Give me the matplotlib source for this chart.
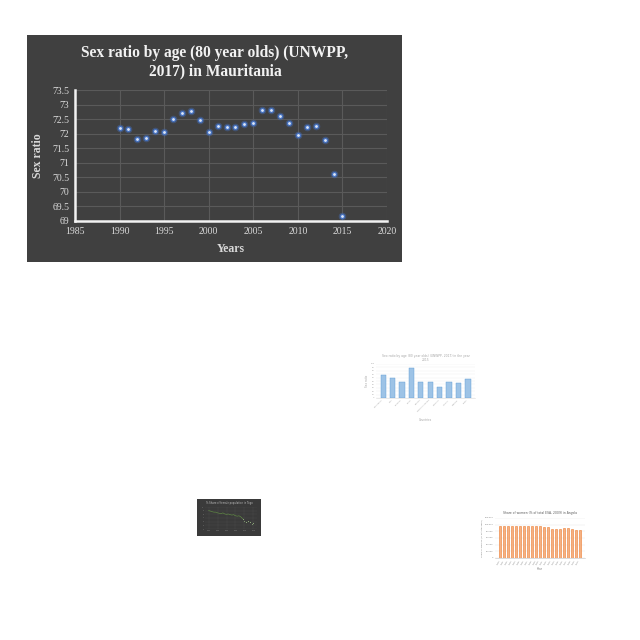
import matplotlib
matplotlib.use("Agg")
import matplotlib.pyplot as plt

# main chart data
years = list(range(1990, 2016))
sex_ratio = [72.21, 72.17, 71.82, 71.86, 72.09, 72.06, 72.50, 72.71, 72.78, 72.47,
             72.06, 72.27, 72.24, 72.24, 72.34, 72.37, 72.80, 72.83, 72.62, 72.37,
             71.97, 72.24, 72.27, 71.77, 70.60, 69.16]
y_ticks = [69, 69.5, 70, 70.5, 71, 71.5, 72, 72.5, 73, 73.5]
y_tick_labels = ["69", "69.5", "70", "70.5", "71", "71.5", "72", "72.5", "73", "73.5"]
x_ticks = [1985, 1990, 1995, 2000, 2005, 2010, 2015, 2020]

# thumbnail data (illegible in the reference, values estimated)
blue_cats = ["Mauritania", "Mali", "Senegal", "Niger", "Guinea", "Western Sahara",
             "Morocco", "Algeria", "Gambia", "Chad"]
blue_vals = [67, 58, 46, 89, 48, 47, 33, 46, 43, 56]
orange_years = [str(y) for y in range(1990, 2011)]
orange_vals = [96500, 96000, 96300, 96500, 97000, 97200, 97000, 97000, 97000, 96800,
               96000, 94500, 92500, 88500, 88000, 88200, 89500, 90000, 86000, 85000, 85500]
green_x = list(range(1990, 2016))
green_y = [9.0, 8.9, 8.7, 8.6, 8.6, 8.4, 8.3, 8.2, 8.4, 8.1, 8.0, 8.1, 7.9, 7.8,
           7.9, 7.6, 7.5, 7.6, 7.3, 6.8, 6.2, 5.9, 6.3, 5.8, 5.4, 5.7]

BG = "#404040"
GRID = "#5a5a5a"
TXT = "#d9d9d9"
SERIF = ["Liberation Serif", "DejaVu Serif"]

fig = plt.figure(figsize=(6.4, 6.4), dpi=100)
fig.patch.set_facecolor("white")

def px(x0, y0, x1, y1):
    # pixel box -> figure rect
    return [x0 / 640, 1 - y1 / 640, (x1 - x0) / 640, (y1 - y0) / 640]

def panel(box, color):
    p = fig.add_axes(px(*box), zorder=-1)
    p.set_facecolor(color)
    p.set_xticks([]); p.set_yticks([])
    for s in p.spines.values():
        s.set_visible(False)
    return p

# ---- main dark chart ----
panel((27, 35, 402, 262), BG)
ax = fig.add_axes(px(75, 90, 387, 221))
ax.set_facecolor(BG)
ax.set_xlim(1985, 2020)
ax.set_ylim(69, 73.5)
ax.set_xticks(x_ticks)
ax.set_yticks(y_ticks)
ax.set_yticklabels(y_tick_labels)
ax.grid(True, color=GRID, linewidth=0.8)
ax.set_axisbelow(True)
for s in ["top", "right"]:
    ax.spines[s].set_visible(False)
for s in ["left", "bottom"]:
    ax.spines[s].set_color("#f2f2f2")
    ax.spines[s].set_linewidth(1.8)
ax.tick_params(length=0, colors=TXT, labelsize=7, pad=4)
for lab in ax.get_xticklabels() + ax.get_yticklabels():
    lab.set_family(SERIF)
ax.scatter(years, sex_ratio, s=30, color="#4472c4", alpha=0.4, linewidths=0, zorder=3)
ax.scatter(years, sex_ratio, s=8, color="#dce6f7", edgecolors="#4472c4", linewidths=0.8, zorder=4)
ax.set_xlabel("Years", family=SERIF, color=TXT, fontsize=8.5, fontweight="bold", labelpad=5)
ax.set_ylabel("Sex ratio", family=SERIF, color=TXT, fontsize=8.5, fontweight="bold", labelpad=6)
fig.text(215 / 640, 1 - 62 / 640, "Sex ratio by age (80 year olds) (UNWPP,\n2017) in Mauritania",
         ha="center", va="center", family=SERIF, color="#f2f2f2", fontsize=11.2,
         fontweight="bold", linespacing=1.15)

# ---- thumbnail: blue bars ----
tb = fig.add_axes(px(376, 364, 475, 398))
tb.bar(range(len(blue_vals)), blue_vals, color="#9dc3e6", edgecolor="#5b9bd5", linewidth=0.3, width=0.55)
tb.set_ylim(0, 100)
tb.set_yticks(range(0, 101, 10))
tb.set_xticks(range(len(blue_cats)))
tb.set_xticklabels(blue_cats, rotation=45, ha="right")
tb.tick_params(labelsize=1.5, length=0, colors="#a6a6a6", pad=1)
tb.grid(axis="y", color="#eeeeee", linewidth=0.3)
tb.set_axisbelow(True)
for s in ["top", "right", "left"]:
    tb.spines[s].set_visible(False)
tb.spines["bottom"].set_color("#d9d9d9")
tb.spines["bottom"].set_linewidth(0.4)
tb.set_xlabel("Countries", fontsize=2, color="#a6a6a6", labelpad=4)
tb.set_ylabel("Sex ratio", fontsize=2, color="#a6a6a6", labelpad=1)
tb.set_title("Sex ratio by age (80 year olds) (UNWPP, 2017) in the year\n2015",
             fontsize=2.2, color="#a6a6a6", pad=2)

# ---- thumbnail: dark green line ----
panel((197, 499, 261, 536), "#3a3a3a")
tg = fig.add_axes(px(205, 507, 257, 529))
tg.set_facecolor("#3a3a3a")
tg.plot(green_x[:20], green_y[:20], color="#70ad47", linewidth=0.4, alpha=0.8)
tg.scatter(green_x[19:], green_y[19:], s=0.6, color="#a9d18e", linewidths=0)
tg.set_xlim(1988, 2017)
tg.set_ylim(4, 10)
tg.grid(True, color="#4d4d4d", linewidth=0.3)
tg.tick_params(labelsize=1.2, length=0, colors="#8c8c8c", pad=0.5)
for s in tg.spines.values():
    s.set_visible(False)
fig.text(229 / 640, 1 - 503 / 640, "% Share of female population in Togo", ha="center", va="center",
         fontsize=1.8, color="#bfbfbf")

# ---- thumbnail: orange bars ----
to = fig.add_axes(px(495, 518, 585, 558))
to.bar(range(len(orange_vals)), orange_vals, color="#f4b183", edgecolor="#ed7d31", linewidth=0.4, width=0.55)
to.set_ylim(0, 120000)
to.set_yticks(range(0, 120001, 20000))
to.set_yticklabels(["{:,}".format(v) for v in range(0, 120001, 20000)])
to.set_xticks(range(len(orange_years)))
to.set_xticklabels(orange_years, rotation=60, ha="right")
to.tick_params(labelsize=1.5, length=0, colors="#7f7f7f", pad=1)
to.grid(axis="y", color="#e6e6e6", linewidth=0.3)
to.set_axisbelow(True)
for s in ["top", "right", "left"]:
    to.spines[s].set_visible(False)
to.spines["bottom"].set_color("#bfbfbf")
to.spines["bottom"].set_linewidth(0.4)
to.set_xlabel("Year", fontsize=2, color="#7f7f7f", labelpad=2)
to.set_ylabel("Share of women (% of total ages)", fontsize=1.6, color="#7f7f7f", labelpad=1)
to.set_title("Share of women (% of total ESA, 2009) in Angola", fontsize=2.2, color="#595959", pad=3)

fig.savefig("out.png", dpi=100, facecolor="white")
